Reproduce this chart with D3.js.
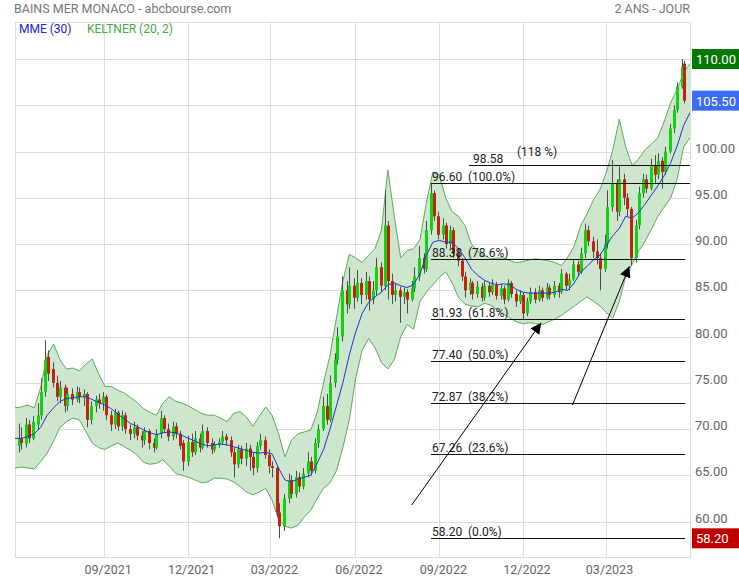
<!DOCTYPE html>
<html>
<head>
<meta charset="utf-8">
<script src="https://cdn.jsdelivr.net/npm/d3@7"></script>
<style>
  body { margin: 0; background: #fff; }
  svg { font-family: Roboto, "Noto Sans", sans-serif; }
</style>
</head>
<body>
<svg id="chart" width="739" height="580"></svg>
<script>
// daily candles, one every third trading day from 2021-05-31 : [open, high, low, close]
const candles = [
  [68.2,70.6,67.5,69.0],[69.0,70.2,67.8,68.5],[68.4,71.2,68.0,70.5],[70.5,71.0,68.5,69.0],[69.0,71.4,68.8,70.8],
  [70.5,72.8,70.0,71.5],[71.5,75.5,71.0,74.0],[74.0,79.6,73.5,77.5],[77.8,78.5,75.2,76.0],[76.5,77.2,74.5,75.0],
  [75.0,75.8,73.0,73.5],[73.5,75.2,72.8,74.5],[74.5,74.8,71.8,72.5],[72.5,74.5,72.0,73.8],[73.8,74.4,72.6,73.2],
  [73.2,74.6,72.9,74.0],[74.0,74.5,72.8,73.5],[73.4,74.3,72.5,73.8],[73.8,74.0,70.2,71.0],[71.0,73.0,70.5,72.5],
  [72.5,73.6,71.8,73.2],[73.2,73.8,72.2,72.8],[72.8,74.0,72.0,73.5],[73.5,73.7,71.0,71.5],[71.5,72.0,69.8,70.5],
  [70.5,72.2,70.0,71.8],[71.8,72.0,69.8,70.3],[70.3,72.0,69.8,71.5],[71.5,71.8,69.5,70.0],[70.0,70.5,68.8,69.5],
  [69.5,70.8,69.0,70.2],[70.2,70.5,68.8,69.3],[69.3,69.8,68.0,68.8],[68.8,70.2,68.3,69.8],[69.8,70.0,67.8,68.5],
  [68.5,69.0,67.5,68.0],[68.0,70.0,67.8,69.5],[69.5,72.0,69.0,71.2],[71.2,71.5,69.6,70.0],[70.0,70.6,68.7,69.2],
  [69.2,70.8,68.8,70.3],[70.3,70.7,69.0,69.5],[69.5,69.8,67.8,68.2],[68.5,68.8,65.5,66.5],[66.5,69.3,66.0,68.6],
  [68.6,69.5,67.0,67.5],[67.5,69.8,67.2,69.0],[69.0,69.5,67.5,68.0],[68.0,70.5,67.8,69.8],[69.8,70.2,68.0,68.5],
  [68.5,69.0,67.3,67.8],[67.8,68.7,67.5,68.3],[68.3,69.0,68.0,68.6],[68.6,69.8,68.3,69.2],[69.2,69.5,68.2,68.8],
  [68.8,69.2,67.0,67.5],[67.5,68.0,64.8,66.2],[66.2,68.3,65.8,67.8],[67.8,68.2,66.2,66.8],[66.8,68.5,66.0,67.9],
  [67.9,68.3,65.5,67.0],[67.0,67.5,65.0,65.8],[65.8,68.6,65.3,68.2],[68.2,69.5,67.8,68.8],[68.8,69.2,66.8,67.2],
  [67.2,67.8,65.2,66.0],[66.0,66.5,64.8,65.8],[65.8,66.0,60.5,61.0],[61.0,62.0,58.2,59.5],[59.5,63.0,59.0,62.5],
  [62.5,65.2,62.0,64.5],[64.5,65.0,62.5,63.0],[63.0,65.5,62.6,64.8],[64.8,65.3,63.2,63.8],[63.8,65.8,63.5,65.2],
  [65.2,67.5,64.8,66.5],[66.5,67.0,65.0,65.5],[65.5,69.0,65.2,68.5],[68.5,70.5,68.0,70.0],[70.0,73.5,69.8,72.5],
  [72.5,73.8,70.5,71.0],[71.0,75.8,70.8,75.0],[75.0,78.2,74.5,77.5],[77.5,81.0,77.0,80.0],[80.0,86.5,79.5,85.0],
  [85.0,86.0,82.5,83.5],[83.5,87.5,83.0,85.5],[85.5,86.3,83.0,84.2],[84.2,87.2,83.8,85.8],[85.8,86.3,83.5,84.5],
  [84.5,87.0,84.0,86.0],[86.0,86.5,82.8,84.0],[84.0,86.0,83.5,85.0],[85.0,88.5,84.5,87.5],[87.5,88.0,84.8,85.5],
  [85.5,95.8,85.0,92.0],[92.0,92.5,84.0,86.0],[86.0,86.8,83.5,84.5],[84.5,85.8,83.8,85.0],[85.0,85.4,81.5,84.3],
  [84.3,85.3,83.5,84.8],[84.8,85.1,82.5,84.0],[84.0,86.0,83.8,85.2],[85.2,87.5,84.8,86.5],[86.5,89.8,86.0,88.5],
  [88.5,89.0,86.8,87.3],[87.3,92.5,87.0,91.5],[91.5,96.6,91.0,95.5],[95.5,95.8,92.5,93.0],[93.0,93.5,90.5,91.0],
  [91.0,92.8,90.5,92.0],[92.0,92.3,89.5,90.0],[90.0,92.0,89.6,91.5],[91.5,91.8,88.5,89.0],[89.0,89.5,87.6,88.2],
  [88.2,88.5,86.0,86.5],[86.5,87.0,84.2,85.0],[85.0,86.3,84.5,85.8],[85.8,86.0,84.0,84.6],[84.6,86.0,84.2,85.4],
  [85.4,85.8,83.8,84.2],[84.2,86.0,83.9,85.5],[85.5,85.8,84.3,84.8],[84.8,86.2,84.5,85.6],[85.6,85.9,84.0,84.4],
  [84.4,85.7,84.0,85.2],[85.2,85.5,83.5,84.0],[84.0,86.2,83.8,85.8],[85.8,86.0,84.2,84.6],[84.6,85.0,83.2,83.8],
  [83.8,85.0,83.5,84.5],[84.5,84.8,81.9,82.5],[82.5,84.2,82.2,83.8],[83.8,85.3,83.5,84.8],[84.8,85.2,83.6,84.0],
  [84.0,85.5,83.8,85.0],[85.0,85.3,83.8,84.2],[84.2,85.8,84.0,85.3],[85.3,85.6,84.0,84.5],[84.5,86.0,84.2,85.5],
  [85.5,85.8,84.2,84.8],[84.8,87.3,84.6,86.8],[86.8,87.0,85.0,85.5],[85.5,86.8,85.0,86.2],[86.2,88.4,86.0,87.8],
  [87.8,88.2,86.5,87.0],[87.0,89.6,86.8,89.0],[89.0,92.2,88.5,91.5],[91.5,92.0,89.8,90.3],[90.3,90.8,88.5,89.2],
  [89.2,90.5,87.8,88.5],[88.5,89.0,85.0,87.3],[87.3,91.0,87.0,90.0],[90.0,95.8,89.5,94.0],[94.0,99.1,93.5,96.5],
  [96.5,97.0,92.5,93.5],[93.5,98.4,93.0,97.0],[97.0,97.6,94.2,95.0],[95.0,95.5,93.0,93.8],[93.8,94.0,87.7,88.5],
  [88.5,92.6,88.0,92.0],[92.0,96.2,91.6,95.5],[95.5,97.6,95.0,97.0],[97.0,97.5,95.5,96.0],[96.0,99.2,95.8,98.5],
  [98.5,99.6,96.6,97.5],[97.5,99.8,97.0,99.0],[99.0,99.4,96.0,97.8],[97.8,100.5,97.5,100.0],[100.0,103.0,99.8,102.5],
  [102.5,105.0,102.0,104.5],[104.5,107.5,104.2,107.0],[107.0,110.0,106.8,109.2],[109.5,109.8,105.2,105.5]
];

// weekly indicator readings from 2021-05-27
const mme30 = [
  69.0,69.0,69.2,69.5,70.2,71.5,72.3,73.0,73.3,73.4,73.5,73.5,73.2,72.9,72.6,72.2,71.6,71.1,70.6,70.3,
  69.9,69.6,69.4,69.6,69.7,69.6,69.3,69.0,68.7,68.4,68.2,68.3,68.4,68.3,68.1,67.9,67.7,67.5,67.4,67.5,
  67.3,65.8,64.5,64.3,64.6,64.8,65.0,66.3,67.8,70.0,72.5,75.0,78.0,80.5,82.5,83.7,84.3,84.8,85.6,85.8,
  85.5,85.3,85.6,86.8,88.8,90.2,90.4,90.2,90.2,89.5,88.5,87.3,86.6,86.1,85.8,85.6,85.7,85.6,85.1,84.8,
  84.7,84.7,84.7,84.7,84.8,85.1,85.0,85.8,87.0,87.6,88.3,88.8,89.9,90.9,91.7,93.0,92.8,93.4,94.3,95.3,
  96.3,97.4,98.8,100.6,102.8,104.2
];
const keltnerUp = [
  72.3,72.4,72.6,72.3,74.5,78.0,79.2,77.5,76.5,76.6,76.3,77.0,77.6,76.0,74.6,74.6,74.2,73.9,73.4,72.9,
  72.2,71.8,71.5,72.8,73.5,73.0,72.8,72.5,72.1,71.7,71.5,71.5,71.2,70.8,71.7,71.9,71.3,70.3,71.4,72.4,
  71.5,69.5,67.0,68.8,69.5,69.7,69.9,71.8,75.0,78.0,82.0,86.0,88.9,88.5,88.0,88.8,89.5,91.5,98.0,93.0,
  88.5,89.3,89.5,90.5,94.5,97.8,97.5,95.0,93.5,93.0,92.0,90.0,89.2,88.8,88.4,88.5,88.5,88.2,88.0,88.1,
  88.3,88.4,88.3,88.2,88.0,87.7,88.6,89.8,92.0,93.3,94.8,95.9,97.8,100.2,103.5,100.5,98.5,99.2,100.2,100.8,
  101.5,103.3,105.3,106.7,108.5,109.5
];
const keltnerLow = [
  65.8,65.9,65.8,65.7,66.5,67.4,68.7,70.2,70.8,71.2,71.0,69.8,68.5,68.0,67.8,68.2,68.5,68.1,67.7,67.2,
  66.4,66.2,66.3,66.7,66.0,65.2,65.0,64.8,64.5,64.2,64.3,64.7,64.7,64.6,64.3,63.8,63.2,62.9,63.2,63.6,
  62.3,60.2,59.5,59.3,59.6,60.5,61.2,62.5,63.6,64.2,65.5,68.0,71.0,75.5,78.5,79.8,78.8,77.2,76.5,77.5,
  80.0,81.3,80.8,83.8,84.8,85.6,86.4,87.0,85.8,84.2,83.5,83.3,83.2,83.6,83.4,82.9,82.4,82.0,81.6,81.4,
  81.5,81.4,81.3,81.6,81.9,82.3,82.8,83.3,83.8,84.3,83.8,83.3,82.6,82.0,83.8,86.5,87.8,89.2,90.3,91.6,
  93.0,94.0,95.0,97.0,100.5,101.5
];

// Fibonacci retracement levels drawn from the 2022 low/high
const fibLevels = [98.58, 96.60, 88.38, 81.93, 77.40, 72.87, 67.26, 58.20];
const fibPercents = ["(118 %)", "(100.0%)", "(78.6%)", "(61.8%)", "(50.0%)", "(38.2%)", "(23.6%)", "(0.0%)"];

const yTicks = [60, 65, 70, 75, 80, 85, 90, 95, 100, 105, 110];
const xTicks = ["2021-09-01", "2021-12-01", "2022-03-01", "2022-06-01", "2022-09-01", "2022-12-01", "2023-03-01"];

// arrows: [fromDate, fromPrice, toDate, toPrice]
const arrows = [
  ["2022-08-02", 61.8, "2022-12-21", 81.5],
  ["2023-01-24", 72.6, "2023-03-27", 87.6]
];

const maxPrice = 110.00, lastPrice = 105.50, minPrice = 58.20;

const parse = d3.timeParse("%Y-%m-%d");

function tradingDays(start, n, step) {
  const out = [];
  let d = new Date(start);
  let count = 0;
  while (out.length < n) {
    const wd = d.getDay();
    if (wd !== 0 && wd !== 6) {
      if (count % step === 0) out.push(new Date(d));
      count++;
    }
    d = d3.timeDay.offset(d, 1);
  }
  return out;
}

const candleDates = tradingDays(new Date(2021, 4, 31), candles.length, 3);
const weekDates = mme30.map((_, k) => d3.timeDay.offset(new Date(2021, 4, 27), 7 * k));

const plotLeft = 15, plotRight = 690, plotTop = 22, plotBottom = 557;

const svg = d3.select("#chart");

const x = d3.scaleTime()
  .domain([new Date(2021, 4, 27), new Date(2023, 5, 1)])
  .range([plotLeft, plotRight]);
const y = d3.scaleLinear()
  .domain([56.18, 114.0])
  .range([plotBottom, plotTop]);

const defs = svg.append("defs");
defs.append("clipPath").attr("id", "plot")
  .append("rect").attr("x", plotLeft).attr("y", plotTop)
  .attr("width", plotRight - plotLeft).attr("height", plotBottom - plotTop);

// grid
const grid = svg.append("g").attr("stroke", "#dedede").attr("stroke-width", 1);
grid.selectAll(".h").data(yTicks).join("line").attr("class", "h")
  .attr("x1", plotLeft).attr("x2", plotRight)
  .attr("y1", d => Math.round(y(d)) + 0.5).attr("y2", d => Math.round(y(d)) + 0.5);
grid.selectAll(".v").data(xTicks).join("line").attr("class", "v")
  .attr("x1", d => Math.round(x(parse(d))) + 0.5).attr("x2", d => Math.round(x(parse(d))) + 0.5)
  .attr("y1", plotTop).attr("y2", plotBottom);
svg.append("rect")
  .attr("x", plotLeft + 0.5).attr("y", plotTop + 0.5)
  .attr("width", plotRight - plotLeft).attr("height", plotBottom - plotTop)
  .attr("fill", "none").attr("stroke", "#dedede");

const plot = svg.append("g").attr("clip-path", "url(#plot)");

// keltner channel
const band = d3.area()
  .x((d, i) => x(weekDates[i]))
  .y0((d, i) => y(keltnerLow[i]))
  .y1((d, i) => y(keltnerUp[i]));
plot.append("path").datum(keltnerUp)
  .attr("d", band)
  .attr("fill", "#cde6cd");
const edge = arr => d3.line().x((d, i) => x(weekDates[i])).y(d => y(d))(arr);
plot.append("path").attr("d", edge(keltnerUp)).attr("fill", "none").attr("stroke", "#5cab5c").attr("stroke-width", 1);
plot.append("path").attr("d", edge(keltnerLow)).attr("fill", "none").attr("stroke", "#5cab5c").attr("stroke-width", 1);

// candles
const cg = plot.append("g");
const bodyW = 3;
cg.selectAll(".wick").data(candles).join("line").attr("class", "wick")
  .attr("x1", (d, i) => Math.round(x(candleDates[i])) + 0.5)
  .attr("x2", (d, i) => Math.round(x(candleDates[i])) + 0.5)
  .attr("y1", d => y(d[1]))
  .attr("y2", d => y(d[2]))
  .attr("stroke", "#4d4d4d").attr("stroke-width", 1);
cg.selectAll(".body").data(candles).join("rect").attr("class", "body")
  .attr("x", (d, i) => Math.round(x(candleDates[i])) - 1)
  .attr("y", d => y(Math.max(d[0], d[3])))
  .attr("width", bodyW)
  .attr("height", d => Math.max(1, Math.abs(y(d[0]) - y(d[3]))))
  .attr("fill", d => d[3] >= d[0] ? "#11d411" : "#c4220c");

// MME 30
plot.append("path")
  .attr("d", d3.line().x((d, i) => x(weekDates[i])).y(d => y(d))(mme30))
  .attr("fill", "none").attr("stroke", "#1f35d0").attr("stroke-width", 1);

// fibonacci lines
const fibStart = x(candleDates[107]);
const fib = svg.append("g");
fibLevels.forEach((v, i) => {
  const x0 = i === 0 ? fibStart + 38 : fibStart;
  const x1 = i < 2 ? plotRight : plotRight - 5;
  const yy = Math.round(y(v)) + 0.5;
  fib.append("line").attr("x1", x0).attr("x2", x1).attr("y1", yy).attr("y2", yy)
    .attr("stroke", "#111").attr("stroke-width", 1);
  fib.append("text").attr("x", i === 0 ? x0 + 4 : x0 + 1).attr("y", yy - 3)
    .attr("font-size", 12).attr("fill", "#222").text(v.toFixed(2));
  fib.append("text")
    .attr("x", i === 0 ? x0 + 48 : x0 + 37)
    .attr("y", i === 0 ? yy - 10 : yy - 3)
    .attr("font-size", 12).attr("fill", "#222").text(fibPercents[i]);
});

// arrows
defs.append("marker")
  .attr("id", "head").attr("viewBox", "0 0 10 10")
  .attr("refX", 10).attr("refY", 5)
  .attr("markerWidth", 11).attr("markerHeight", 11)
  .attr("markerUnits", "userSpaceOnUse")
  .attr("orient", "auto")
  .append("path").attr("d", "M0,0 L10,5 L0,10 Z").attr("fill", "#000");
svg.selectAll(".arrow").data(arrows).join("line").attr("class", "arrow")
  .attr("x1", d => x(parse(d[0]))).attr("y1", d => y(d[1]))
  .attr("x2", d => x(parse(d[2]))).attr("y2", d => y(d[3]))
  .attr("stroke", "#000").attr("stroke-width", 1)
  .attr("marker-end", "url(#head)");

// y axis labels
svg.append("g").selectAll("text").data(yTicks.filter(v => v !== 105 && v !== 110)).join("text")
  .attr("x", 695).attr("y", d => y(d) + 1)
  .attr("font-size", 13).attr("fill", "#666")
  .text(d => d.toFixed(2));

// value boxes
const boxes = [[maxPrice, "#057705"], [lastPrice, "#3a6cf4"], [minPrice, "#c00000"]];
boxes.forEach(([v, c]) => {
  const cy = y(v);
  svg.append("rect").attr("x", 692).attr("y", cy - 10).attr("width", 47).attr("height", 20).attr("fill", c);
  svg.append("text").attr("x", 696).attr("y", cy + 5)
    .attr("font-size", 13).attr("fill", "#fff").text(v.toFixed(2));
});

// x axis labels
svg.append("g").selectAll("text").data(xTicks).join("text")
  .attr("x", d => x(parse(d)) + 4).attr("y", 574)
  .attr("text-anchor", "middle")
  .attr("font-size", 12.5).attr("fill", "#666")
  .text(d => d3.timeFormat("%m/%Y")(parse(d)));

// header and legend
svg.append("text").attr("x", 14).attr("y", 13).attr("font-size", 12.5).attr("fill", "#777")
  .text("BAINS MER MONACO - abcbourse.com");
svg.append("text").attr("x", 690).attr("y", 13).attr("font-size", 12.5).attr("fill", "#777")
  .attr("text-anchor", "end").text("2 ANS - JOUR");
svg.append("text").attr("x", 19).attr("y", 33).attr("font-size", 12).attr("fill", "#2222dd").text("MME (30)");
svg.append("text").attr("x", 87).attr("y", 33).attr("font-size", 12).attr("fill", "#44aa44").text("KELTNER (20, 2)");
</script>
</body>
</html>
